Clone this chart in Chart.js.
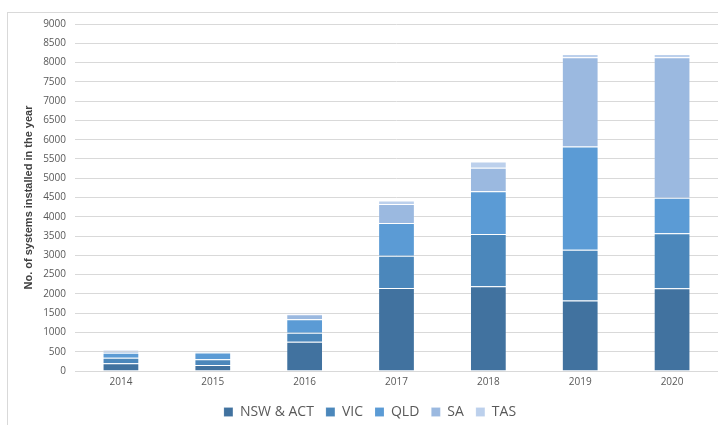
<!DOCTYPE html>
<html>
<head>
<meta charset="utf-8">
<script src="https://cdn.jsdelivr.net/npm/chart.js@4"></script>
<style>
    html, body { margin: 0; padding: 0; background: #fff; overflow: hidden; }
    #frame { position: absolute; left: 7px; top: 12px; width: 720px; height: 420px; border: 1px solid #d9d9d9; }
    #wrap { position: absolute; left: 0; top: 0; width: 718px; height: 425px; }
</style>
</head>
<body>
<div id="frame"></div>
<div id="wrap"><canvas id="installChart" width="718" height="425"></canvas></div>
<script>
// 연도별 설치 수
const years = ['2014', '2015', '2016', '2017', '2018', '2019', '2020'];
const nswAct = [200, 155, 760, 2150, 2195, 1830, 2145];
const vic = [145, 150, 235, 840, 1360, 1315, 1425];
const qld = [130, 175, 350, 850, 1105, 2675, 925];
const sa = [50, 15, 130, 490, 610, 2315, 3640];
const tas = [20, 10, 25, 95, 165, 90, 90];

const seriesNames = ['NSW & ACT', 'VIC', 'QLD', 'SA', 'TAS'];
const seriesData = [nswAct, vic, qld, sa, tas];
const seriesColors = ['#41729f', '#4b87bb', '#5b9bd5', '#9bb9e0', '#bcd0ec'];

const datasets = seriesNames.map((name, i) => ({
    label: name,
    data: seriesData[i],
    backgroundColor: seriesColors[i],
    borderColor: 'rgba(255,255,255,0.15)',
    borderWidth: 1,
    categoryPercentage: 1,
    barPercentage: 0.4
}));

const ctx = document.getElementById('installChart').getContext('2d');
new Chart(ctx, {
    type: 'bar',
    data: { labels: years, datasets: datasets },
    options: {
        responsive: false,
        animation: false,
        layout: { padding: { left: 22, top: 24, right: 0, bottom: -4 } },
        plugins: {
            legend: {
                position: 'bottom',
                labels: {
                    boxWidth: 9,
                    boxHeight: 9,
                    padding: 12,
                    color: '#595959',
                    font: { family: 'Open Sans', size: 14 }
                }
            },
            tooltip: { enabled: false }
        },
        scales: {
            x: {
                stacked: true,
                grid: { display: false, drawTicks: false },
                border: { color: '#d9d9d9' },
                ticks: { color: '#595959', padding: 5, font: { family: 'Open Sans', size: 10 } }
            },
            y: {
                stacked: true,
                min: 0,
                max: 9000,
                afterFit: scale => { scale.width = 53; },
                grid: { color: '#d9d9d9', drawTicks: false },
                border: { display: false },
                ticks: {
                    stepSize: 500,
                    color: '#595959',
                    padding: 9,
                    font: { family: 'Open Sans', size: 10 },
                    callback: value => String(value)
                },
                title: {
                    display: true,
                    text: 'No. of systems installed in the year',
                    color: '#404040',
                    padding: 0,
                    font: { family: 'Liberation Sans', size: 11, weight: 'bold' }
                }
            }
        }
    }
});
</script>
</body>
</html>
